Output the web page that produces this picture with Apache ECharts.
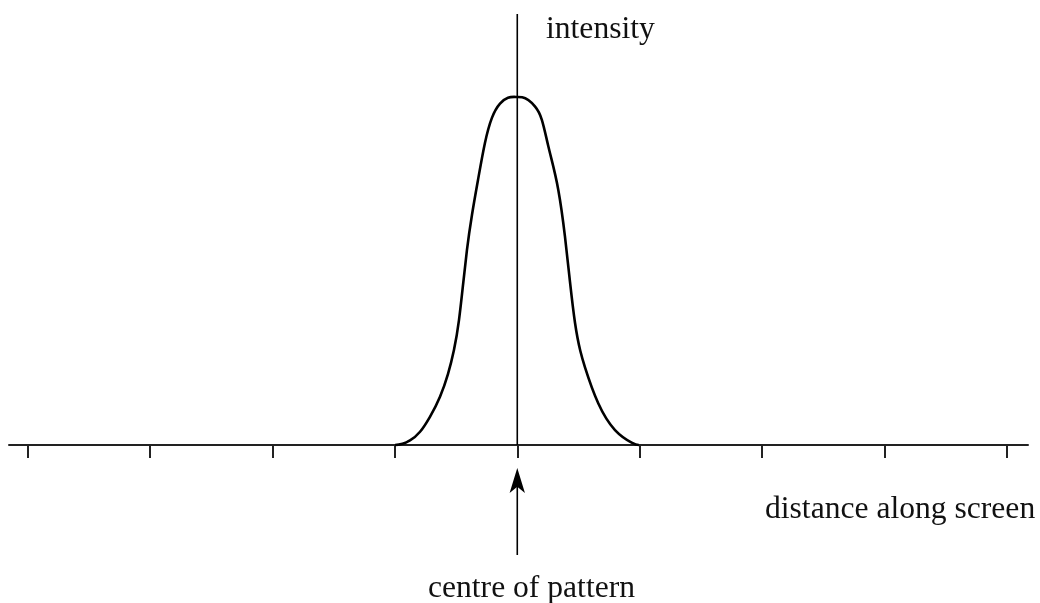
<!DOCTYPE html>
<html>
<head>
<meta charset="utf-8">
<script src="https://cdn.jsdelivr.net/npm/echarts@6/dist/echarts.min.js"></script>
<style>html,body{margin:0;padding:0;background:#fff}#c{width:1040px;height:603px}</style>
</head>
<body>
<div id="c"></div>
<script>
// Tick positions along the screen (arbitrary units)
const tickValues = [-4, -3, -2, -1, 0, 1, 2, 3, 4];
// Intensity profile of the central maximum: [distance, intensity]
const curveLeft = [[-0.998,0],[-0.876,0.013],[-0.794,0.038],[-0.713,0.081],[-0.631,0.139],[-0.566,0.204],[-0.517,0.273],[-0.476,0.359],[-0.443,0.46],[-0.411,0.56],[-0.37,0.661],[-0.321,0.761],[-0.264,0.868],[-0.207,0.94],[-0.141,0.981],[-0.076,0.998],[0,1.0]];
const curveRight = [[0.04,0.999],[0.144,0.973],[0.2,0.935],[0.253,0.859],[0.335,0.733],[0.389,0.6],[0.43,0.47],[0.471,0.352],[0.515,0.27],[0.553,0.223],[0.661,0.12],[0.798,0.043],[0.934,0.007],[0.993,0]];
const curve = curveLeft.concat(curveRight);
// Intensity axis line (top value) and arrow marking the centre
const intensityAxisTop = 1.2385;
const arrowShaft = [[0,-0.316],[0,-0.09]];
const arrowTip = [[0,-0.066]];
const labels = { y: 'intensity', x: 'distance along screen', centre: 'centre of pattern' };

// slopes of a clamped cubic spline through the points (flat at both ends)
function splineSlopes(pts) {
  const n = pts.length - 1;
  const h = [], m = new Array(n + 1).fill(0);
  for (let i = 0; i < n; i++) h.push(pts[i+1][0] - pts[i][0]);
  const a = [], b = [], c = [], d = [];
  for (let i = 1; i < n; i++) {
    a.push(h[i]); b.push(2 * (h[i-1] + h[i])); c.push(h[i-1]);
    d.push(3 * (h[i] * (pts[i][1] - pts[i-1][1]) / h[i-1] + h[i-1] * (pts[i+1][1] - pts[i][1]) / h[i]));
  }
  const k = b.length;
  for (let i = 1; i < k; i++) { const w = a[i] / b[i-1]; b[i] -= w * c[i-1]; d[i] -= w * d[i-1]; }
  const sol = new Array(k);
  sol[k-1] = d[k-1] / b[k-1];
  for (let i = k - 2; i >= 0; i--) sol[i] = (d[i] - c[i] * sol[i+1]) / b[i];
  for (let i = 1; i < n; i++) m[i] = sol[i-1];
  return m;
}

const font = '31.6px "Liberation Serif", "Times New Roman", serif';
const chart = echarts.init(document.getElementById('c'), null, {renderer: 'canvas'});
chart.setOption({
  animation: false,
  backgroundColor: '#fff',
  grid: {left: 9, right: 12, top: 0, bottom: 0, containLabel: false},
  xAxis: {
    type: 'value', min: -4.15, max: 4.17,
    axisLine: {show: true, onZero: true, lineStyle: {color: '#222', width: 2}},
    axisTick: {show: true, inside: false, length: 13, customValues: tickValues, lineStyle: {color: '#222', width: 2}},
    axisLabel: {show: false},
    splitLine: {show: false}
  },
  yAxis: {
    type: 'value', min: -0.454, max: 1.2787,
    axisLine: {show: false}, axisTick: {show: false}, axisLabel: {show: false}, splitLine: {show: false}
  },
  series: [
    {type: 'line', data: [[0,0],[0,intensityAxisTop]], symbol: 'none', lineStyle: {color: '#000', width: 1.6}, silent: true},
    {
      type: 'custom', coordinateSystem: 'cartesian2d', data: curve,
      renderItem: function (params, api) {
        if (params.dataIndex !== 0) return null;
        const m = splineSlopes(curve);
        const P = (x, y) => api.coord([x, y]);
        let p0 = P(curve[0][0], curve[0][1]);
        let path = 'M' + p0[0] + ',' + p0[1];
        for (let i = 0; i < curve.length - 1; i++) {
          const [x0, y0] = curve[i], [x1, y1] = curve[i+1];
          const hh = (x1 - x0) / 3;
          const c1 = P(x0 + hh, y0 + m[i] * hh);
          const c2 = P(x1 - hh, y1 - m[i+1] * hh);
          const e = P(x1, y1);
          path += ' C' + c1[0] + ',' + c1[1] + ' ' + c2[0] + ',' + c2[1] + ' ' + e[0] + ',' + e[1];
        }
        return {type: 'path', shape: {pathData: path}, style: {stroke: '#000', fill: 'none', lineWidth: 2.6}};
      }
    },
    {type: 'line', data: arrowShaft, symbol: 'none', lineStyle: {color: '#000', width: 1.6}},
    {type: 'scatter', data: arrowTip, symbol: 'arrow', symbolSize: [11.5, 25], itemStyle: {color: '#000', opacity: 1}}
  ],
  graphic: [
    {type: 'text', left: 546, top: 14, style: {text: labels.y, font: font, fill: '#111'}},
    {type: 'text', left: 765, top: 494, style: {text: labels.x, font: font, fill: '#111'}},
    {type: 'text', left: 428, top: 573, style: {text: labels.centre, font: font, fill: '#111'}}
  ]
});
</script>
</body>
</html>
